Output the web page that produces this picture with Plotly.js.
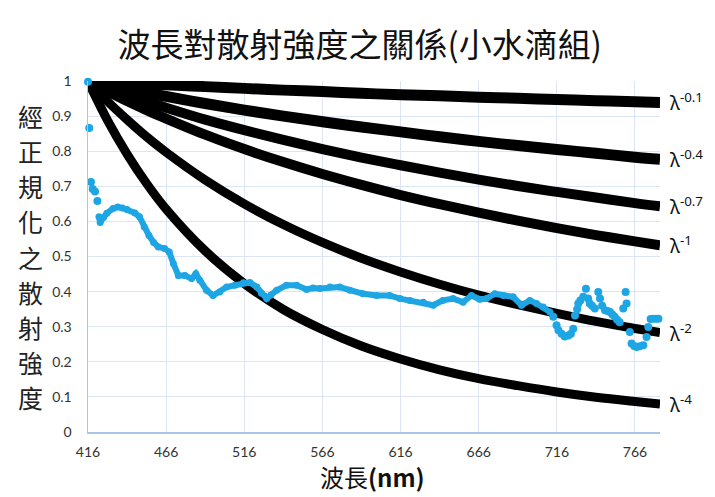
<!DOCTYPE html>
<html><head><meta charset="utf-8">
<script src="https://cdn.plot.ly/plotly-3.0.1.min.js"></script>
<style>html,body{margin:0;padding:0;background:#fff;}#chart{width:715px;height:497px;}</style>
</head><body><div id="chart"></div>
<script>
// ---- data ----
const titleText = '波長對散射強度之關係(小水滴組)';
const yTitleChars = ['經','正','規','化','之','散','射','強','度'];
const xTickVals = [416,466,516,566,616,666,716,766];

const lamX   = [416, 428.5, 441, 453.5, 466, 491, 516, 541, 566, 591, 616, 641, 666, 691, 716, 741, 766, 782];
const lamP01 = [1, 0.997, 0.994, 0.991, 0.989, 0.984, 0.979, 0.974, 0.970, 0.965, 0.961, 0.958, 0.954, 0.951, 0.947, 0.944, 0.941, 0.939];
const lamP04 = [1, 0.988, 0.977, 0.966, 0.956, 0.936, 0.917, 0.900, 0.884, 0.869, 0.855, 0.841, 0.828, 0.816, 0.805, 0.794, 0.783, 0.777];
const lamP07 = [1, 0.979, 0.960, 0.942, 0.924, 0.890, 0.860, 0.832, 0.806, 0.782, 0.760, 0.739, 0.719, 0.701, 0.684, 0.668, 0.652, 0.643];
const lamP1  = [1, 0.971, 0.943, 0.917, 0.893, 0.847, 0.806, 0.769, 0.735, 0.704, 0.675, 0.649, 0.625, 0.602, 0.581, 0.561, 0.543, 0.532];
const lamP2  = [1, 0.942, 0.890, 0.841, 0.797, 0.718, 0.650, 0.591, 0.540, 0.495, 0.456, 0.421, 0.390, 0.363, 0.338, 0.315, 0.295, 0.283];
const lamP4  = [1, 0.888, 0.792, 0.708, 0.635, 0.516, 0.423, 0.349, 0.292, 0.245, 0.208, 0.177, 0.152, 0.132, 0.114, 0.099, 0.087, 0.080];
const lamLabels = ['λ<sup>-0.1</sup>','λ<sup>-0.4</sup>','λ<sup>-0.7</sup>','λ<sup>-1</sup>','λ<sup>-2</sup>','λ<sup>-4</sup>'];

const blueStartX = [416, 416.8, 417.9, 419, 420.5, 422];
const blueStartY = [0.998, 0.866, 0.712, 0.692, 0.685, 0.658];

const blueMainX = [423, 423.8, 426, 428, 432, 435, 438, 441, 446, 449, 452, 455, 458, 461, 465, 468, 470.6, 473.8, 478, 482.3, 485, 487.5, 491.8, 496, 500.3, 504.7, 510, 515.4, 519.6, 524, 527, 530.3, 533, 536.7, 543, 549.5, 555.9, 560, 564.4, 570.8, 577, 583.6, 592, 600.6, 609, 615.6, 622, 630.5, 636.9, 643, 649.6, 656, 661.4, 666.6, 671, 676.3, 681.7, 688, 693.4, 698.7, 703, 707.3, 711.6];
const blueMainY = [0.613, 0.597, 0.612, 0.623, 0.637, 0.641, 0.638, 0.634, 0.624, 0.613, 0.584, 0.560, 0.540, 0.527, 0.523, 0.513, 0.480, 0.446, 0.446, 0.437, 0.451, 0.432, 0.404, 0.389, 0.399, 0.413, 0.418, 0.425, 0.426, 0.413, 0.395, 0.380, 0.390, 0.404, 0.418, 0.418, 0.406, 0.410, 0.409, 0.413, 0.413, 0.404, 0.394, 0.389, 0.389, 0.380, 0.375, 0.370, 0.361, 0.375, 0.380, 0.370, 0.389, 0.378, 0.380, 0.394, 0.389, 0.385, 0.361, 0.375, 0.366, 0.356, 0.342];

const blueTailX = [713.7, 715.8, 717, 719, 721, 723.3, 725, 726.5, 727.6, 729, 729.7, 731, 732.9, 734.6, 736, 737, 738.5, 740.3, 742.5, 743.6, 745, 746.8, 748.5, 750, 751.5, 753, 754.6, 756.2, 758.5, 760.6, 760, 762.7, 763.8, 765.5, 767, 769, 771.3, 773.4, 774.5, 776, 777.7, 779.5, 781];
const blueTailY = [0.328, 0.304, 0.290, 0.280, 0.272, 0.275, 0.280, 0.294, 0.332, 0.350, 0.366, 0.375, 0.385, 0.408, 0.380, 0.366, 0.360, 0.352, 0.399, 0.380, 0.360, 0.347, 0.345, 0.342, 0.335, 0.328, 0.320, 0.313, 0.352, 0.366, 0.399, 0.285, 0.252, 0.245, 0.242, 0.244, 0.247, 0.271, 0.299, 0.322, 0.323, 0.323, 0.323];

// ---- drawing ----
const blue = '#1ea6e4';
const curves = [lamP01, lamP04, lamP07, lamP1, lamP2, lamP4];
const widths = [11, 11, 10, 10, 9, 9];
const traces = curves.map((ys, i) => ({
  x: lamX, y: ys, type: 'scatter', mode: 'lines',
  line: {color: '#000', width: widths[i], shape: 'spline', smoothing: 1},
  cliponaxis: false, hoverinfo: 'skip'
}));
traces.push({x: blueMainX, y: blueMainY, type: 'scatter', mode: 'lines+markers',
  line: {color: blue, width: 6}, marker: {color: blue, size: 7}, cliponaxis: false});
traces.push({x: blueStartX, y: blueStartY, type: 'scatter', mode: 'markers',
  marker: {color: blue, size: 8}, cliponaxis: false});
traces.push({x: blueTailX, y: blueTailY, type: 'scatter', mode: 'markers',
  marker: {color: blue, size: 8}, cliponaxis: false});

const annotations = [];
curves.forEach((ys, i) => {
  annotations.push({xref: 'paper', x: 1, xanchor: 'left', xshift: 8,
    yref: 'y', y: ys[ys.length - 1], yanchor: 'middle', showarrow: false,
    text: lamLabels[i], font: {family: 'Noto Sans, DejaVu Sans', size: 19, color: '#111'}});
});
yTitleChars.forEach((ch, i) => {
  annotations.push({xref: 'paper', x: 0, xanchor: 'center', xshift: -58,
    yref: 'y', y: 0.9 - 0.1 * i, yanchor: 'middle', showarrow: false,
    text: ch, font: {family: 'Noto Sans CJK TC', size: 25, color: '#222'}});
});
annotations.push({xref: 'paper', x: 0.497, xanchor: 'center', yref: 'paper', y: 0,
  yanchor: 'middle', yshift: -44, showarrow: false,
  text: '波長<b>(nm)</b>', font: {family: 'Noto Sans CJK TC', size: 24, color: '#111'}});

const layout = {
  width: 715, height: 497,
  margin: {l: 88, r: 55, t: 81, b: 65},
  paper_bgcolor: '#fff', plot_bgcolor: '#fff',
  showlegend: false,
  title: {text: titleText, x: 0.503, xref: 'container', xanchor: 'center',
    y: 0.909, yref: 'container', yanchor: 'middle',
    font: {family: 'Noto Sans CJK TC', size: 33, color: '#111'}},
  xaxis: {range: [416, 782], tickvals: xTickVals, ticktext: xTickVals.map(String),
    showgrid: true, gridcolor: '#dce5f3', gridwidth: 1, zeroline: false,
    showline: true, linecolor: '#a9c6e8', linewidth: 1.5, ticks: '',
    ticklabelstandoff: 7,
    tickfont: {family: 'Lato, Open Sans', size: 14, color: '#333'}},
  yaxis: {range: [0, 1], dtick: 0.1, tick0: 0,
    showgrid: true, gridcolor: '#dce5f3', gridwidth: 1, zeroline: false,
    showline: true, linecolor: '#a9c6e8', linewidth: 1.5, ticks: '',
    ticklabelstandoff: 12,
    tickfont: {family: 'Lato, Open Sans', size: 14, color: '#333'}},
  annotations: annotations
};
Plotly.newPlot('chart', traces, layout, {staticPlot: true, displayModeBar: false});
</script>
</body></html>
